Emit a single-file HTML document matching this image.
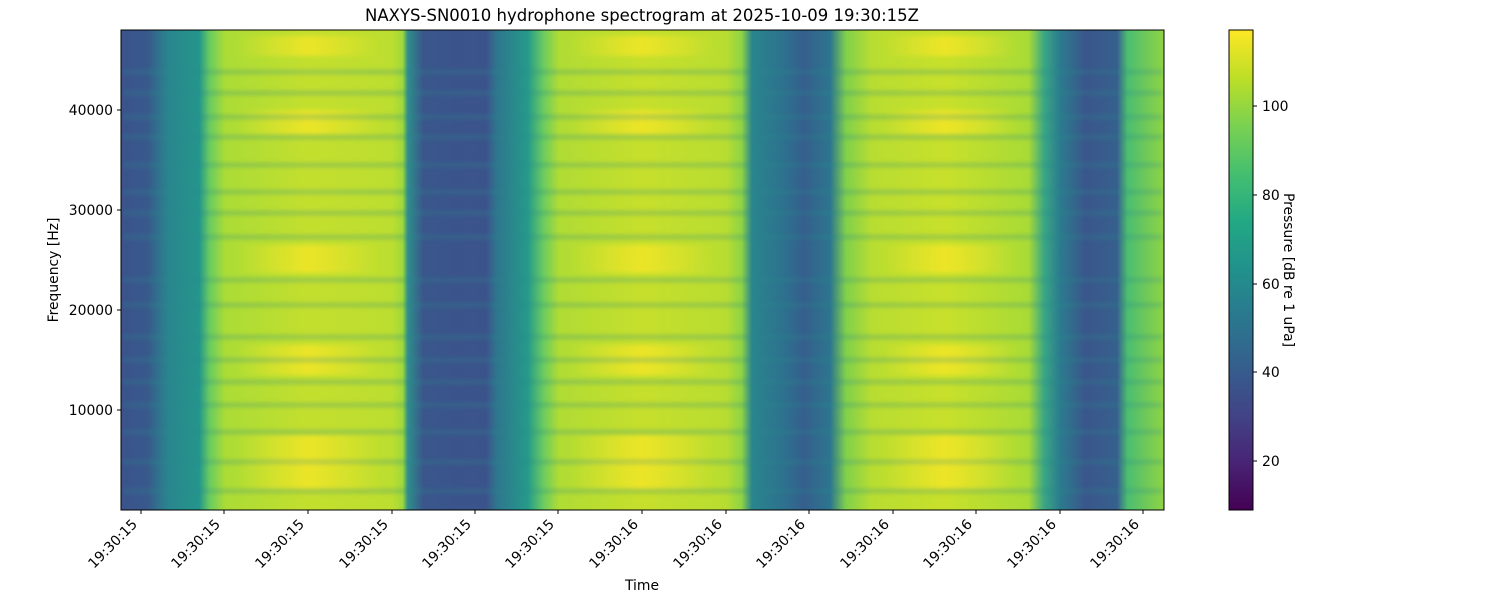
<!DOCTYPE html>
<html><head><meta charset="utf-8"><style>
body{margin:0;background:#fff;}
svg text{font-family:"DejaVu Sans","Liberation Sans",sans-serif;fill:#000;}
</style></head><body>
<svg width="1500" height="600" viewBox="0 0 1500 600" xmlns="http://www.w3.org/2000/svg">
<defs>
<linearGradient id="bands" x1="121" x2="1164" y1="0" y2="0" gradientUnits="userSpaceOnUse">
<stop offset="0" stop-color="#3b538b"/>
<stop offset="0.025" stop-color="#38598c"/>
<stop offset="0.045" stop-color="#2a858e"/>
<stop offset="0.075" stop-color="#24968b"/>
<stop offset="0.085" stop-color="#6acb60"/>
<stop offset="0.1" stop-color="#abdc36"/>
<stop offset="0.18" stop-color="#c3df2e"/>
<stop offset="0.26" stop-color="#bcde30"/>
<stop offset="0.27" stop-color="#9ed93b"/>
<stop offset="0.275" stop-color="#2f8d8c"/>
<stop offset="0.29" stop-color="#3a568b"/>
<stop offset="0.35" stop-color="#3b538b"/>
<stop offset="0.36" stop-color="#2f758e"/>
<stop offset="0.39" stop-color="#259a8a"/>
<stop offset="0.405" stop-color="#6acb60"/>
<stop offset="0.42" stop-color="#b0dc34"/>
<stop offset="0.5" stop-color="#c6df2c"/>
<stop offset="0.58" stop-color="#b8dd31"/>
<stop offset="0.595" stop-color="#8fd444"/>
<stop offset="0.605" stop-color="#2a858e"/>
<stop offset="0.635" stop-color="#2d718e"/>
<stop offset="0.655" stop-color="#355f8d"/>
<stop offset="0.68" stop-color="#2d758e"/>
<stop offset="0.695" stop-color="#80d04b"/>
<stop offset="0.72" stop-color="#b8dd31"/>
<stop offset="0.79" stop-color="#c8e02b"/>
<stop offset="0.87" stop-color="#a8db36"/>
<stop offset="0.885" stop-color="#3aa784"/>
<stop offset="0.9" stop-color="#2b7c8e"/>
<stop offset="0.925" stop-color="#3a568b"/>
<stop offset="0.955" stop-color="#36608d"/>
<stop offset="0.965" stop-color="#4cbd70"/>
<stop offset="1" stop-color="#8fd444"/>
</linearGradient>
<linearGradient id="cb" x1="0" x2="0" y1="510" y2="30" gradientUnits="userSpaceOnUse">
<stop offset="0" stop-color="#440154"/><stop offset="0.1" stop-color="#482475"/>
<stop offset="0.2" stop-color="#414487"/><stop offset="0.3" stop-color="#355f8d"/>
<stop offset="0.4" stop-color="#2a788e"/><stop offset="0.5" stop-color="#21918c"/>
<stop offset="0.6" stop-color="#22a884"/><stop offset="0.7" stop-color="#44bf70"/>
<stop offset="0.8" stop-color="#7ad151"/><stop offset="0.9" stop-color="#bddf26"/>
<stop offset="1" stop-color="#fde725"/>
</linearGradient>
<linearGradient id="hi" x1="121" x2="1164" y1="0" y2="0" gradientUnits="userSpaceOnUse">
<stop offset="0.11" stop-color="#fde725" stop-opacity="0"/>
<stop offset="0.18" stop-color="#fde725" stop-opacity="0.7"/>
<stop offset="0.25" stop-color="#fde725" stop-opacity="0"/>
<stop offset="0.43" stop-color="#fde725" stop-opacity="0"/>
<stop offset="0.5" stop-color="#fde725" stop-opacity="0.7"/>
<stop offset="0.57" stop-color="#fde725" stop-opacity="0"/>
<stop offset="0.73" stop-color="#fde725" stop-opacity="0"/>
<stop offset="0.79" stop-color="#fde725" stop-opacity="0.7"/>
<stop offset="0.86" stop-color="#fde725" stop-opacity="0"/>
</linearGradient>
<filter id="bl" x="-5%" y="-50%" width="110%" height="200%"><feGaussianBlur stdDeviation="4 2"/></filter>
<clipPath id="cp"><rect x="121" y="30" width="1043" height="480"/></clipPath>
</defs>
<text x="642" y="21" font-size="16.5" text-anchor="middle">NAXYS-SN0010 hydrophone spectrogram at 2025-10-09 19:30:15Z</text>
<rect x="121" y="30" width="1043" height="480" fill="url(#bands)"/>
<g clip-path="url(#cp)">
<g fill="url(#hi)" filter="url(#bl)">
<rect x="121" y="36" width="1043" height="20"/><rect x="121" y="245" width="1043" height="28"/>
<rect x="121" y="435" width="1043" height="30"/><rect x="121" y="462" width="1043" height="28"/>
<rect x="121" y="110" width="1043" height="25"/><rect x="121" y="345" width="1043" height="30"/>
</g>
<g fill="#2a8a8c" opacity="0.3" filter="url(#bl)">
<rect x="121" y="70" width="1043" height="4"/><rect x="121" y="91" width="1043" height="4"/>
<rect x="121" y="115" width="1043" height="4"/><rect x="121" y="135" width="1043" height="4"/>
<rect x="121" y="163" width="1043" height="4"/><rect x="121" y="190" width="1043" height="4"/>
<rect x="121" y="211" width="1043" height="4"/><rect x="121" y="235" width="1043" height="4"/>
<rect x="121" y="278" width="1043" height="4"/><rect x="121" y="303" width="1043" height="4"/>
<rect x="121" y="335" width="1043" height="4"/><rect x="121" y="358" width="1043" height="4"/>
<rect x="121" y="380" width="1043" height="4"/><rect x="121" y="403" width="1043" height="4"/>
<rect x="121" y="430" width="1043" height="4"/><rect x="121" y="460" width="1043" height="4"/>
<rect x="121" y="489" width="1043" height="4"/>
</g>
</g>
<rect x="121" y="30" width="1043" height="480" fill="none" stroke="#000" stroke-width="1"/>
<g stroke="#000" stroke-width="1">
<line x1="117" x2="121" y1="410" y2="410"/><line x1="117" x2="121" y1="310" y2="310"/>
<line x1="117" x2="121" y1="210" y2="210"/><line x1="117" x2="121" y1="110" y2="110"/>
</g>
<g font-size="13.9" text-anchor="end">
<text x="113" y="415">10000</text><text x="113" y="315">20000</text>
<text x="113" y="215">30000</text><text x="113" y="115">40000</text>
</g>
<text transform="translate(58,270) rotate(-90)" font-size="13.9" text-anchor="middle">Frequency [Hz]</text>
<g stroke="#000">
<line x1="141" x2="141" y1="510" y2="514"/><line x1="224" x2="224" y1="510" y2="514"/>
<line x1="308" x2="308" y1="510" y2="514"/><line x1="392" x2="392" y1="510" y2="514"/>
<line x1="475" x2="475" y1="510" y2="514"/><line x1="558" x2="558" y1="510" y2="514"/>
<line x1="642" x2="642" y1="510" y2="514"/><line x1="726" x2="726" y1="510" y2="514"/>
<line x1="809" x2="809" y1="510" y2="514"/><line x1="893" x2="893" y1="510" y2="514"/>
<line x1="976" x2="976" y1="510" y2="514"/><line x1="1060" x2="1060" y1="510" y2="514"/>
<line x1="1143" x2="1143" y1="510" y2="514"/>
</g>
<g font-size="13.9" text-anchor="end">
<text transform="translate(138,525) rotate(-45)">19:30:15</text>
<text transform="translate(221,525) rotate(-45)">19:30:15</text>
<text transform="translate(305,525) rotate(-45)">19:30:15</text>
<text transform="translate(389,525) rotate(-45)">19:30:15</text>
<text transform="translate(472,525) rotate(-45)">19:30:15</text>
<text transform="translate(555,525) rotate(-45)">19:30:15</text>
<text transform="translate(639,525) rotate(-45)">19:30:16</text>
<text transform="translate(723,525) rotate(-45)">19:30:16</text>
<text transform="translate(806,525) rotate(-45)">19:30:16</text>
<text transform="translate(890,525) rotate(-45)">19:30:16</text>
<text transform="translate(973,525) rotate(-45)">19:30:16</text>
<text transform="translate(1057,525) rotate(-45)">19:30:16</text>
<text transform="translate(1140,525) rotate(-45)">19:30:16</text>
</g>
<text x="642" y="590" font-size="13.9" text-anchor="middle">Time</text>
<rect x="1229" y="30" width="24" height="480" fill="url(#cb)" stroke="#000" stroke-width="1"/>
<g stroke="#000">
<line x1="1253" x2="1257" y1="106" y2="106"/><line x1="1253" x2="1257" y1="195" y2="195"/>
<line x1="1253" x2="1257" y1="284" y2="284"/><line x1="1253" x2="1257" y1="372" y2="372"/>
<line x1="1253" x2="1257" y1="461" y2="461"/>
</g>
<g font-size="13.9">
<text x="1262" y="111">100</text><text x="1262" y="200">80</text>
<text x="1262" y="289">60</text><text x="1262" y="377">40</text><text x="1262" y="466">20</text>
</g>
<text transform="translate(1284,270) rotate(90)" font-size="13.9" text-anchor="middle">Pressure [dB re 1 uPa]</text>
</svg>
</body></html>
